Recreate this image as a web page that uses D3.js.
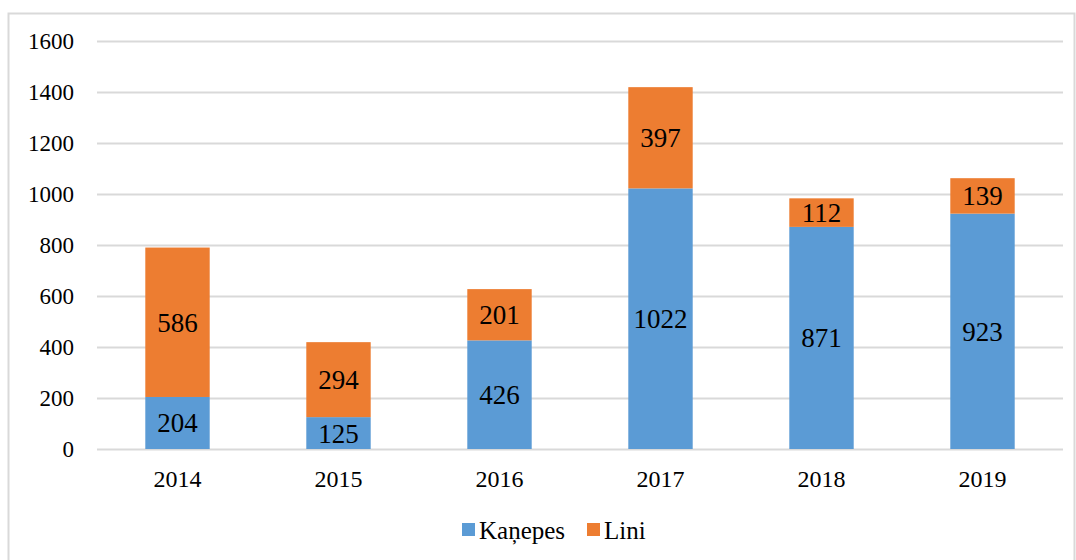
<!DOCTYPE html>
<html>
<head>
<meta charset="utf-8">
<script src="https://cdn.jsdelivr.net/npm/d3@7"></script>
<style>
  body { margin: 0; background: #fff; }
  svg { display: block; }
  svg text { font-family: "Liberation Serif", "Times New Roman", serif; fill: #000; }
</style>
</head>
<body>
<div id="chart"></div>
<script>
// chart data
var years = ["2014", "2015", "2016", "2017", "2018", "2019"];
var kanepes = [204, 125, 426, 1022, 871, 923];
var lini = [586, 294, 201, 397, 112, 139];
var seriesNames = ["Kaņepes", "Lini"];
var seriesColors = ["#5B9BD5", "#ED7D31"];
var yTicks = [0, 200, 400, 600, 800, 1000, 1200, 1400, 1600];

var Width = 1076, Height = 560;
var margin = { left: 97, right: 13, top: 41, bottom: 111 };

var svg = d3.select("#chart").append("svg")
    .attr("width", Width)
    .attr("height", Height);

// outer frame
svg.append("rect")
    .attr("x", 8.5).attr("y", 13.5)
    .attr("width", 1066).attr("height", 560)
    .attr("fill", "none")
    .attr("stroke", "#D9D9D9")
    .attr("stroke-width", 2);

var x = d3.scaleBand()
    .domain(years)
    .range([margin.left, Width - margin.right])
    .paddingInner(0.6)
    .paddingOuter(0.3);

var y = d3.scaleLinear()
    .domain([0, 1600])
    .range([Height - margin.bottom, margin.top]);

// gridlines
svg.append("g")
    .selectAll("line")
    .data(yTicks)
    .enter()
    .append("line")
    .attr("x1", margin.left)
    .attr("x2", Width - margin.right)
    .attr("y1", d => Math.round(y(d)) + 0.5)
    .attr("y2", d => Math.round(y(d)) + 0.5)
    .attr("stroke", "#D9D9D9")
    .attr("stroke-width", 2);

// y tick labels
svg.append("g")
    .selectAll("text")
    .data(yTicks)
    .enter()
    .append("text")
    .attr("x", 74)
    .attr("y", d => y(d) + 8)
    .attr("text-anchor", "end")
    .attr("font-size", 23)
    .text(d => d);

// stack the two series
var rows = years.map((yr, i) => ({ year: yr, k: kanepes[i], l: lini[i] }));
var stacked = d3.stack().keys(["k", "l"])(rows);

var groups = svg.append("g")
    .selectAll("g")
    .data(stacked)
    .enter()
    .append("g")
    .attr("fill", (d, i) => seriesColors[i]);

groups.selectAll("rect")
    .data(d => d)
    .enter()
    .append("rect")
    .attr("x", d => x(d.data.year))
    .attr("width", x.bandwidth())
    .attr("y", d => y(d[1]))
    .attr("height", d => y(d[0]) - y(d[1]));

// data labels
groups.selectAll("text")
    .data(d => d)
    .enter()
    .append("text")
    .attr("x", d => x(d.data.year) + x.bandwidth() / 2)
    .attr("y", d => (y(d[0]) + y(d[1])) / 2)
    .attr("dy", "0.35em")
    .attr("text-anchor", "middle")
    .attr("font-size", 27)
    .text(d => d[1] - d[0]);

// x labels
svg.append("g")
    .selectAll("text")
    .data(years)
    .enter()
    .append("text")
    .attr("x", d => x(d) + x.bandwidth() / 2)
    .attr("y", 487)
    .attr("text-anchor", "middle")
    .attr("font-size", 24)
    .text(d => d);

// legend
var legendX = [462, 587];
var legend = svg.append("g")
    .selectAll("g")
    .data(seriesNames)
    .enter()
    .append("g")
    .attr("transform", (d, i) => "translate(" + legendX[i] + ",523)");

legend.append("rect")
    .attr("width", 13).attr("height", 13)
    .attr("fill", (d, i) => seriesColors[i]);

legend.append("text")
    .attr("x", 17)
    .attr("y", 16)
    .attr("font-size", 25)
    .text(d => d);
</script>
</body>
</html>
